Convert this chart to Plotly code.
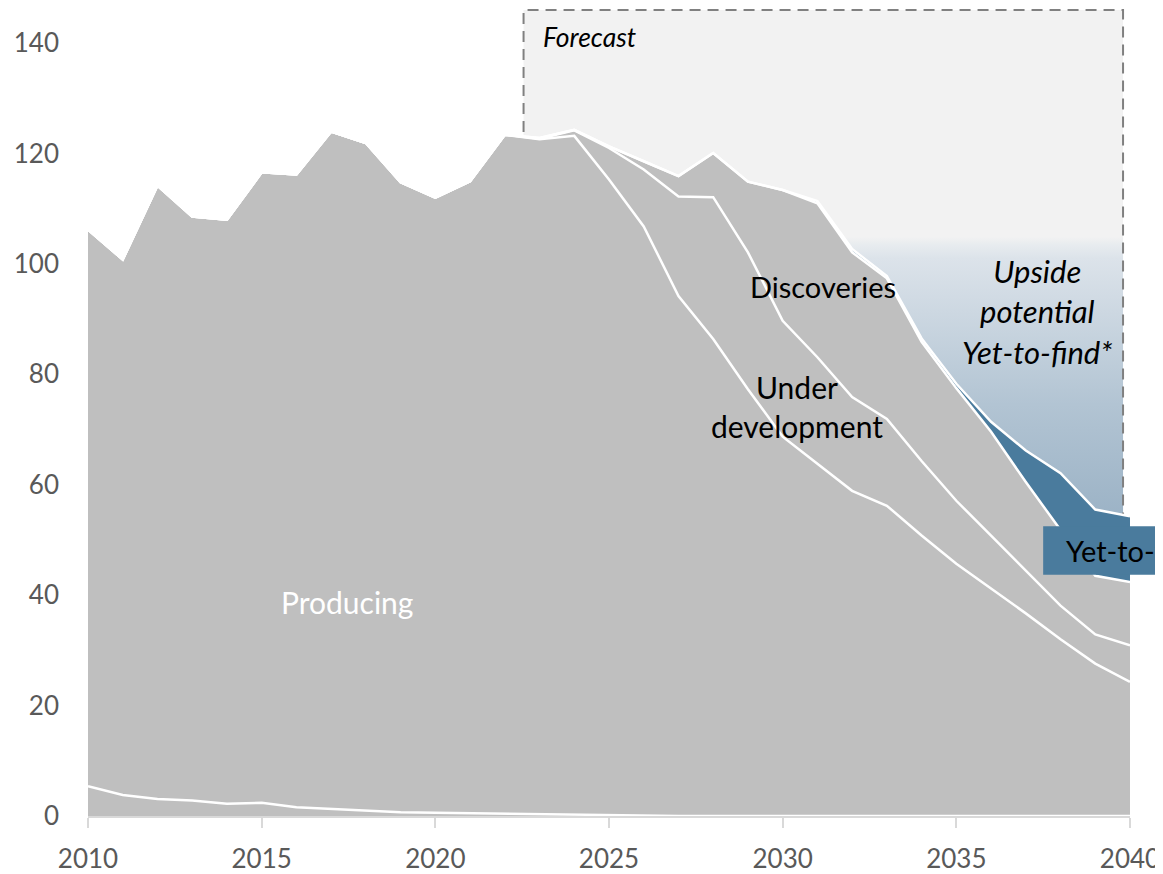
import plotly.graph_objects as go

# ---------------- data ----------------
years = list(range(2010, 2041))
other = [5.4, 3.8, 3.1, 2.8, 2.2, 2.4, 1.6, 1.3, 0.9, 0.7, 0.6, 0.5, 0.4, 0.3, 0.2, 0.1,
         0.1, 0, 0, 0, 0, 0, 0, 0, 0, 0, 0, 0, 0, 0, 0]
producing = [100.8, 97.0, 111.1, 105.8, 105.8, 114.2, 114.6, 122.7, 121.0, 114.1, 111.4,
             114.5, 123.0, 122.3, 123.0, 115.2, 106.7, 94.2, 86.4, 77.3, 68.7, 63.8, 58.9,
             56.2, 50.8, 45.7, 41.2, 36.7, 32.0, 27.6, 24.3]
under_development = [0] * 13 + [0.1, 1.0, 5.7, 10.3, 18.0, 25.7, 24.8, 21.0, 19.3, 17.0,
                                15.7, 13.5, 11.4, 9.6, 7.7, 6.1, 5.3, 6.6]
discoveries = [0] * 13 + [0.1, 0.1, 0.3, 1.5, 3.7, 8.0, 12.8, 23.7, 27.9, 26.2, 25.5,
                          21.6, 20.4, 18.8, 16.1, 13.7, 10.6, 11.5]
yet_to_find = [0] * 21 + [0.4, 0.6, 0.4, 0.6, 0.8, 1.8, 5.7, 10.3, 12.0, 11.9]

x_ticks = [2010, 2015, 2020, 2025, 2030, 2035, 2040]
y_ticks = [0, 20, 40, 60, 80, 100, 120, 140]

# ---------------- styling ----------------
FONT = "Lato"
GRAY = "#BFBFBF"
BLUE = "#4A7B9D"
TICK_COL = "#595959"
X_MIN, X_MAX = 2010, 2040
Y_MAX = 146.36
FC_X0, FC_X1, FC_Y1 = 2022.54, 2039.8, 146.0   # forecast box
UP_X0, UP_TOP = 2031.0, 105.0                 # upside gradient region

fig = go.Figure()

# upside-potential gradient region (behind the stacked areas)
fig.add_trace(go.Scatter(
    x=[UP_X0, FC_X1, FC_X1, UP_X0, UP_X0], y=[0, 0, UP_TOP, UP_TOP, 0],
    fill="toself", mode="lines", line=dict(width=0),
    fillgradient=dict(type="vertical", start=50, stop=UP_TOP,
                      colorscale=[[0, "#97AFC3"], [0.45, "#B2C4D3"],
                                  [0.93, "#DCE3EA"], [0.975, "#E8ECEF"], [1, "#F2F2F2"]]),
    hoverinfo="skip", showlegend=False))

# dashed forecast outline (sides drawn as a trace so they sit above the gradient)
fig.add_trace(go.Scatter(
    x=[FC_X0, FC_X0, FC_X1, FC_X1], y=[0, FC_Y1, FC_Y1, 0],
    mode="lines", line=dict(color="#808080", width=2, dash="11px,7px"),
    hoverinfo="skip", showlegend=False))

layers = [
    ("Other", other, GRAY),
    ("Producing", producing, GRAY),
    ("Under development", under_development, GRAY),
    ("Discoveries", discoveries, GRAY),
    ("Yet-to-find", yet_to_find, BLUE),
]
for name, vals, col in layers:
    fig.add_trace(go.Scatter(
        x=years, y=vals, name=name, stackgroup="one", mode="lines",
        line=dict(color="white", width=2.5), fillcolor=col,
        hoverinfo="skip", showlegend=False))

# forecast background box
fig.add_shape(type="rect", xref="x", yref="y", x0=FC_X0, x1=FC_X1, y0=0, y1=FC_Y1,
              fillcolor="#F2F2F2", line=dict(width=0), layer="below")

# "Yet-to-find" label box (paper coords, runs off the right edge)
lab_x0 = 2037.5
lab_y0, lab_y1 = 43.7, 52.5
fig.add_shape(type="rect", xref="paper", yref="paper",
              x0=(lab_x0 - X_MIN) / (X_MAX - X_MIN), x1=1.2,
              y0=lab_y0 / Y_MAX, y1=lab_y1 / Y_MAX,
              fillcolor=BLUE, line=dict(width=0), layer="above")

def label(text, x, y, size=29, color="black", xanchor="center"):
    fig.add_annotation(x=x, y=y, xref="x", yref="y", text=text, showarrow=False,
                       xanchor=xanchor, yanchor="middle", align="center",
                       font=dict(family=FONT, size=size, color=color))

label("<i>Forecast</i>", 2023.05, 141.1, size=26.5, xanchor="left")
label("<i>Upside<br>potential<br>Yet-to-find*</i>", 2037.33, 91.4, size=31)
label("Discoveries", 2031.16, 95.9, size=29)
label("Under<br>development", 2030.41, 74.1, size=30)
label("Producing", 2017.46, 38.7, size=30, color="white")
label("Yet-to-find", 2038.1, (lab_y0 + lab_y1) / 2, size=29, xanchor="left")

fig.update_layout(
    width=1155, height=866, autosize=False,
    margin=dict(l=80, r=33, t=0, b=56, pad=0),
    paper_bgcolor="white", plot_bgcolor="white",
    font=dict(family=FONT, color=TICK_COL),
    xaxis=dict(range=[X_MIN, X_MAX], tickvals=x_ticks, showgrid=False, zeroline=False,
               showline=True, linecolor="#D9D9D9", linewidth=2,
               ticks="outside", ticklen=10, tickwidth=2, tickcolor="#D9D9D9",
               tickfont=dict(family=FONT, size=26, color=TICK_COL),
               ticklabelstandoff=9),
    yaxis=dict(range=[0, Y_MAX], tickvals=y_ticks, showgrid=False, zeroline=False,
               showline=False, ticks="",
               tickfont=dict(family=FONT, size=26, color=TICK_COL),
               ticklabelstandoff=28),
)

fig.write_html("out.html")
